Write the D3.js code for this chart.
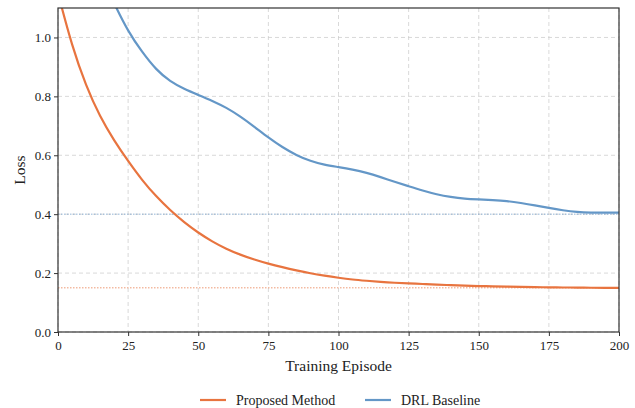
<!DOCTYPE html>
<html><head><meta charset="utf-8">
<script src="https://cdn.jsdelivr.net/npm/d3@7"></script>
<style>body{margin:0;background:#fff}svg{display:block}</style>
</head><body><svg id="c" width="635" height="408" font-family="Liberation Serif"></svg>
<script>
const episodes = [0,5,10,15,20,25,30,35,40,45,50,55,60,65,70,75,80,85,90,95,100,105,110,115,120,125,130,135,140,145,150,155,160,165,170,175,180,185,190,195,200];
const proposed = [1.15,0.97,0.835,0.73,0.65,0.58,0.515,0.46,0.413,0.372,0.337,0.307,0.282,0.262,0.246,0.232,0.22,0.209,0.199,0.191,0.184,0.178,0.174,0.17,0.167,0.165,0.163,0.161,0.159,0.157,0.156,0.155,0.154,0.153,0.152,0.152,0.151,0.151,0.150,0.150,0.150];
const baseline = [1.58,1.46,1.34,1.22,1.115,1.02,0.95,0.89,0.85,0.825,0.805,0.785,0.762,0.732,0.697,0.66,0.627,0.6,0.58,0.567,0.56,0.552,0.541,0.526,0.51,0.495,0.48,0.467,0.458,0.452,0.45,0.448,0.445,0.438,0.43,0.421,0.413,0.407,0.405,0.405,0.405];
const xTicks = [0,25,50,75,100,125,150,175,200];
const yTicks = [0,0.2,0.4,0.6,0.8,1.0];
const refLevels = [{v:0.15,c:"#e8743f"},{v:0.40,c:"#6a9ac8"}];
const seriesNames = ["Proposed Method","DRL Baseline"];
const colors = ["#e8743f","#6497c7"];
const FONT = "Liberation Serif";

const svg = d3.select("#c");
const m = {l:58, r:16, t:8, b:76};
const W = 635, H = 408;
const x = d3.scaleLinear().domain([0,200]).range([m.l, W-m.r]);
const y = d3.scaleLinear().domain([0,1.1]).range([H-m.b, m.t]);

svg.append("defs").append("clipPath").attr("id","clip").append("rect")
  .attr("x",m.l).attr("y",m.t).attr("width",W-m.l-m.r).attr("height",H-m.t-m.b);

const g = svg.append("g");
g.selectAll(".gx").data(xTicks).join("line")
  .attr("x1",d=>x(d)).attr("x2",d=>x(d)).attr("y1",m.t).attr("y2",H-m.b)
  .attr("stroke","#cfcfcf").attr("stroke-width",0.8).attr("stroke-dasharray","4,3");
g.selectAll(".gy").data(yTicks).join("line")
  .attr("y1",d=>y(d)).attr("y2",d=>y(d)).attr("x1",m.l).attr("x2",W-m.r)
  .attr("stroke","#cfcfcf").attr("stroke-width",0.8).attr("stroke-dasharray","4,3");

svg.selectAll(".ref").data(refLevels).join("line")
  .attr("x1",m.l).attr("x2",W-m.r).attr("y1",d=>y(d.v)).attr("y2",d=>y(d.v))
  .attr("stroke",d=>d.c).attr("stroke-width",0.9).attr("stroke-dasharray","1.5,1.5").attr("opacity",0.8);

const line = d3.line().x((d,i)=>x(episodes[i])).y(d=>y(d)).curve(d3.curveBasis);
const lg = svg.append("g").attr("clip-path","url(#clip)");
[proposed, baseline].forEach((s,i)=>{
  lg.append("path").attr("d",line(s)).attr("fill","none").attr("stroke",colors[i]).attr("stroke-width",2.2);
});

const xa = svg.append("g").attr("transform",`translate(0,${H-m.b})`)
  .call(d3.axisBottom(x).tickValues(xTicks).tickFormat(d3.format("d")).tickSizeOuter(0).tickSize(4));
const ya = svg.append("g").attr("transform",`translate(${m.l},0)`)
  .call(d3.axisLeft(y).tickValues(yTicks).tickFormat(d3.format(".1f")).tickSizeOuter(0).tickSize(4));
[xa,ya].forEach(a=>{
  a.attr("font-family",FONT).attr("font-size",13);
  a.selectAll("text").attr("fill","#222");
  a.selectAll("line").attr("stroke","#333");
  a.select(".domain").remove();
});
xa.selectAll("text").attr("dy","0.85em");

svg.append("rect").attr("x",m.l).attr("y",m.t).attr("width",W-m.l-m.r).attr("height",H-m.t-m.b)
  .attr("fill","none").attr("stroke","#333").attr("stroke-width",1.2);

svg.append("text").attr("x",(m.l+W-m.r)/2).attr("y",371).attr("text-anchor","middle")
  .attr("font-size",15.5).attr("fill","#222").attr("font-family",FONT).text("Training Episode");
svg.append("text").attr("transform",`translate(25,${(m.t+H-m.b)/2}) rotate(-90)`).attr("text-anchor","middle")
  .attr("font-size",15.5).attr("fill","#222").attr("font-family",FONT).text("Loss");

const legX = [200, 365];
seriesNames.forEach((n,i)=>{
  svg.append("line").attr("x1",legX[i]).attr("x2",legX[i]+26).attr("y1",400).attr("y2",400)
    .attr("stroke",colors[i]).attr("stroke-width",2.2);
  svg.append("text").attr("x",legX[i]+36).attr("y",404.5).attr("font-size",14).attr("fill","#222")
    .attr("font-family",FONT).text(n);
});
</script></body></html>
